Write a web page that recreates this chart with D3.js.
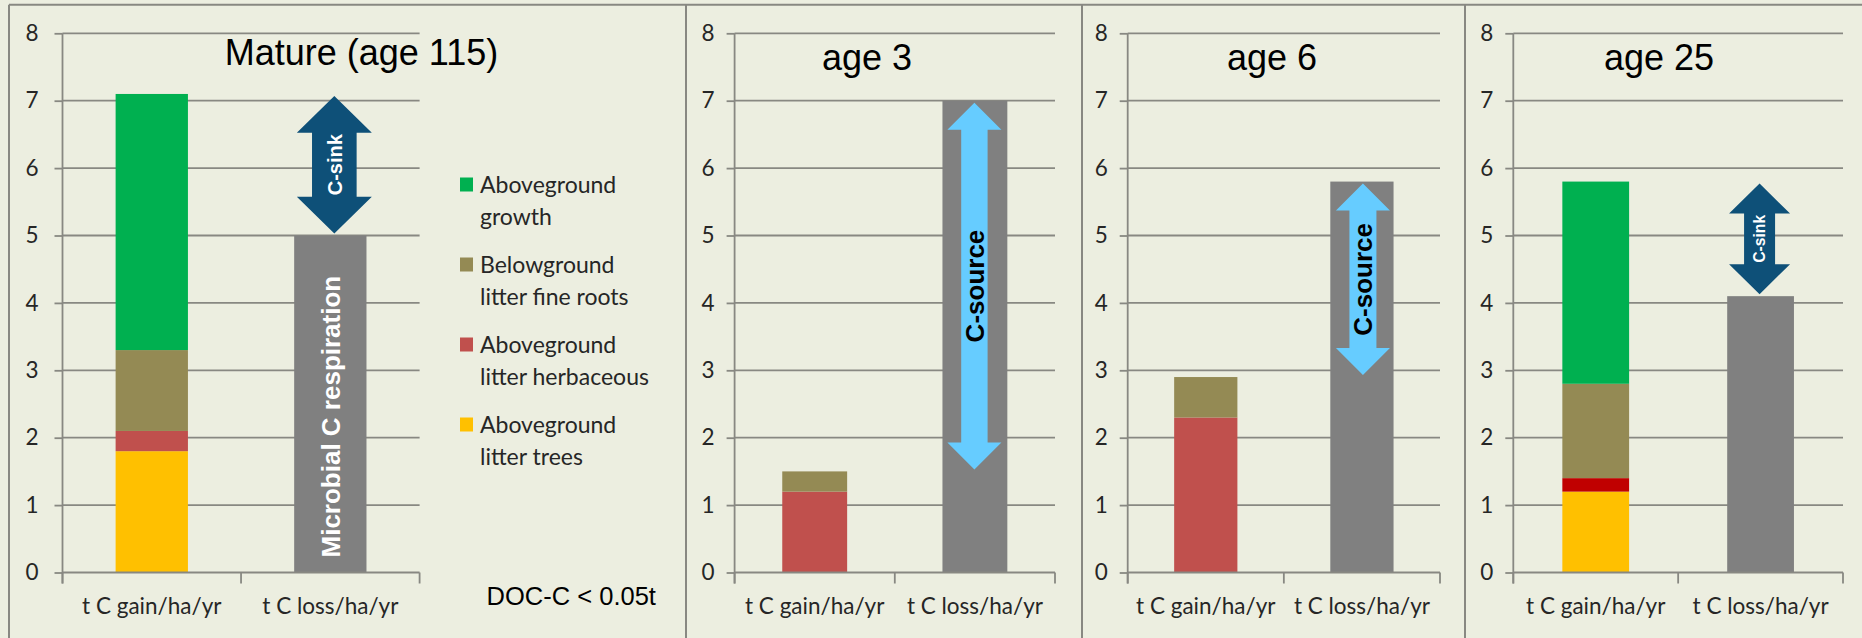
<!DOCTYPE html>
<html><head><meta charset="utf-8">
<script src="https://cdn.jsdelivr.net/npm/d3@7"></script>
<style>
html,body{margin:0;padding:0;background:#ECEEE0;}
svg{display:block;}
</style></head><body>
<svg id="chart" width="1862" height="638"></svg>
<script>
// ---------------- data ----------------
const panelTitles = ["Mature (age 115)", "age 3", "age 6", "age 25"];
const categories = ["t C gain/ha/yr", "t C loss/ha/yr"];
const yTicks = [0, 1, 2, 3, 4, 5, 6, 7, 8];
const seriesKeys = ["trees", "herb", "roots", "growth"];
const litterTrees = [1.8, 0, 0, 1.2];
const litterHerbaceous = [0.3, 1.2, 2.3, 0.2];
const fineRoots = [1.2, 0.3, 0.6, 1.4];
const aboveGrowth = [3.8, 0, 0, 3.0];
const respiration = [5.0, 7.0, 5.8, 4.1];
const arrowLabels = ["C-sink", "C-source", "C-source", "C-sink"];
const legendLabels = [["Aboveground", "growth"], ["Belowground", "litter fine roots"], ["Aboveground", "litter herbaceous"], ["Aboveground", "litter trees"]];
const legendKeys = ["growth", "roots", "herb", "trees"];
const respLabel = "Microbial C respiration";
const docNote = "DOC-C < 0.05t";

// ---------------- styles / layout ----------------
const colors = {trees: "#FFC000", herb: "#C0504D", roots: "#948A54", growth: "#00B050", loss: "#808080"};
const herbOverride = [null, null, null, "#C00000"];
const gridColor = "#888882";
const bg = "#ECEEE0";
const arialF = "'Liberation Sans', Arial, sans-serif";
const calF = "Lato, 'Open Sans', sans-serif";

const layout = [
  {frame: [9, 686], plot: [62.5, 419.6], labelPad: 16, title: {x: 361.5, y: 65},
   arrow: {dx: 4, head: 75, shaft: 44.6, headLen: 36.7, font: 20, color: "#0E5078", text: "#FFFFFF"}},
  {frame: [686, 1082], plot: [734.6, 1055], labelPad: 12, title: {x: 867, y: 70},
   arrow: {dx: -0.5, head: 54, shaft: 26.4, headLen: 27, font: 26, color: "#66CCFF", text: "#000000"}},
  {frame: [1082, 1465], plot: [1127.7, 1440], labelPad: 12, title: {x: 1272, y: 70},
   arrow: {dx: 1, head: 54, shaft: 27, headLen: 27, font: 26, color: "#66CCFF", text: "#000000"}},
  {frame: [1465, 1862], plot: [1513.3, 1843], labelPad: 12, title: {x: 1659, y: 70},
   arrow: {dx: -1, head: 61, shaft: 31, headLen: 30, font: 15.7, color: "#0E5078", text: "#FFFFFF"}}
];

const svg = d3.select("#chart");
svg.append("rect").attr("width", 1862).attr("height", 638).attr("fill", bg);

const y = d3.scaleLinear().domain([0, 8]).range([572.5, 33.3]);

const stack = d3.stack().keys(seriesKeys);

panelTitles.forEach((title, i) => {
  const L = layout[i];
  const g = svg.append("g");
  const x = d3.scaleBand().domain(categories).range(L.plot).paddingInner(0.595).paddingOuter(0.2975);

  // gridlines
  g.append("g").selectAll("line").data(yTicks.slice(1)).join("line")
    .attr("x1", L.plot[0]).attr("x2", L.plot[1])
    .attr("y1", d => y(d)).attr("y2", d => y(d))
    .attr("stroke", gridColor).attr("stroke-width", 1.8);

  // y axis
  const ya = g.append("g").attr("transform", `translate(${L.plot[0]},0)`)
    .call(d3.axisLeft(y).tickValues(yTicks).tickSize(8).tickPadding(L.labelPad).tickFormat(d3.format("d")));
  ya.select(".domain").remove();
  ya.selectAll(".tick line").attr("stroke", gridColor).attr("stroke-width", 1.8);
  ya.selectAll(".tick text").attr("font-family", calF).attr("font-size", 22.5).attr("fill", "#262626");
  g.append("line").attr("x1", L.plot[0]).attr("x2", L.plot[0]).attr("y1", y(8)).attr("y2", y(0) + 11)
    .attr("stroke", gridColor).attr("stroke-width", 1.8);

  // bars
  const row = {cat: categories[0], trees: litterTrees[i], herb: litterHerbaceous[i], roots: fineRoots[i], growth: aboveGrowth[i]};
  const stacked = stack([row]);
  stacked.forEach(s => {
    const c = (s.key === "herb" && herbOverride[i]) ? herbOverride[i] : colors[s.key];
    g.append("g").selectAll("rect").data(s).join("rect")
      .attr("x", d => x(d.data.cat)).attr("width", x.bandwidth())
      .attr("y", d => y(d[1])).attr("height", d => Math.max(0, y(d[0]) - y(d[1])))
      .attr("fill", c);
  });
  g.append("rect").attr("x", x(categories[1])).attr("width", x.bandwidth())
    .attr("y", y(respiration[i])).attr("height", y(0) - y(respiration[i])).attr("fill", colors.loss);

  // x axis line + boundary ticks
  g.append("line").attr("x1", L.plot[0]).attr("x2", L.plot[1]).attr("y1", y(0)).attr("y2", y(0))
    .attr("stroke", gridColor).attr("stroke-width", 1.8);
  const bounds = [0, 1, 2].map(k => L.plot[0] + k * x.step());
  g.append("g").selectAll("line").data(bounds).join("line")
    .attr("x1", d => d).attr("x2", d => d).attr("y1", y(0)).attr("y2", y(0) + 11)
    .attr("stroke", gridColor).attr("stroke-width", 1.8);
  const xa = g.append("g").attr("transform", `translate(0,${y(0)})`)
    .call(d3.axisBottom(x).tickSize(0).tickPadding(26));
  xa.select(".domain").remove();
  xa.selectAll(".tick text").attr("font-family", calF).attr("font-size", 22.5).attr("fill", "#262626");

  // title
  g.append("text").attr("x", L.title.x).attr("y", L.title.y).attr("text-anchor", "middle")
    .attr("font-family", arialF).attr("font-size", 36).attr("fill", "#000").text(title);

  // arrow
  const gainTotal = litterTrees[i] + litterHerbaceous[i] + fineRoots[i] + aboveGrowth[i];
  const hi = Math.max(gainTotal, respiration[i]), lo = Math.min(gainTotal, respiration[i]);
  const A = L.arrow;
  const cx = x(categories[1]) + x.bandwidth() / 2 + A.dx;
  const yt = y(hi) + 2, yb = y(lo) - 2;
  const hw = A.head / 2, sw = A.shaft / 2, hl = A.headLen;
  const pts = [[cx, yt], [cx + hw, yt + hl], [cx + sw, yt + hl], [cx + sw, yb - hl], [cx + hw, yb - hl], [cx, yb],
               [cx - hw, yb - hl], [cx - sw, yb - hl], [cx - sw, yt + hl], [cx - hw, yt + hl]];
  g.append("polygon").attr("points", pts.map(p => p.join(",")).join(" ")).attr("fill", A.color);
  const cy = (yt + yb) / 2;
  g.append("text").attr("transform", `translate(${cx},${cy}) rotate(-90)`)
    .attr("text-anchor", "middle").attr("dy", "0.36em")
    .attr("font-family", arialF).attr("font-weight", "bold").attr("font-size", A.font)
    .attr("fill", A.text).text(arrowLabels[i]);

  if (i === 0) {
    // respiration label inside loss bar
    const bx = x(categories[1]) + x.bandwidth() / 2;
    g.append("text").attr("transform", `translate(${bx},${y(0) - 15}) rotate(-90)`)
      .attr("text-anchor", "start").attr("dy", "0.36em")
      .attr("font-family", arialF).attr("font-weight", "bold").attr("font-size", 26)
      .attr("fill", "#FFFFFF").text(respLabel);
    // legend
    const lg = g.append("g");
    legendKeys.forEach((k, j) => {
      const cyL = 185 + j * 80;
      lg.append("rect").attr("x", 460).attr("y", cyL - 7.5).attr("width", 13).attr("height", 14).attr("fill", colors[k]);
      legendLabels[j].forEach((t, m) => {
        lg.append("text").attr("x", 480).attr("y", cyL + m * 31.7).attr("dy", "0.36em")
          .attr("font-family", calF).attr("font-size", 23).attr("fill", "#262626").text(t);
      });
    });
    g.append("text").attr("x", 486.6).attr("y", 605).attr("font-family", arialF).attr("font-size", 25.5)
      .attr("fill", "#000").text(docNote);
  }
});

// frame
const fr = svg.append("g").attr("stroke", gridColor).attr("stroke-width", 2);
fr.append("line").attr("x1", 9).attr("x2", 1862).attr("y1", 4.7).attr("y2", 4.7);
[9, 686, 1082, 1465].forEach(v => fr.append("line").attr("x1", v).attr("x2", v).attr("y1", 4.7).attr("y2", 638));
</script>
</body></html>
